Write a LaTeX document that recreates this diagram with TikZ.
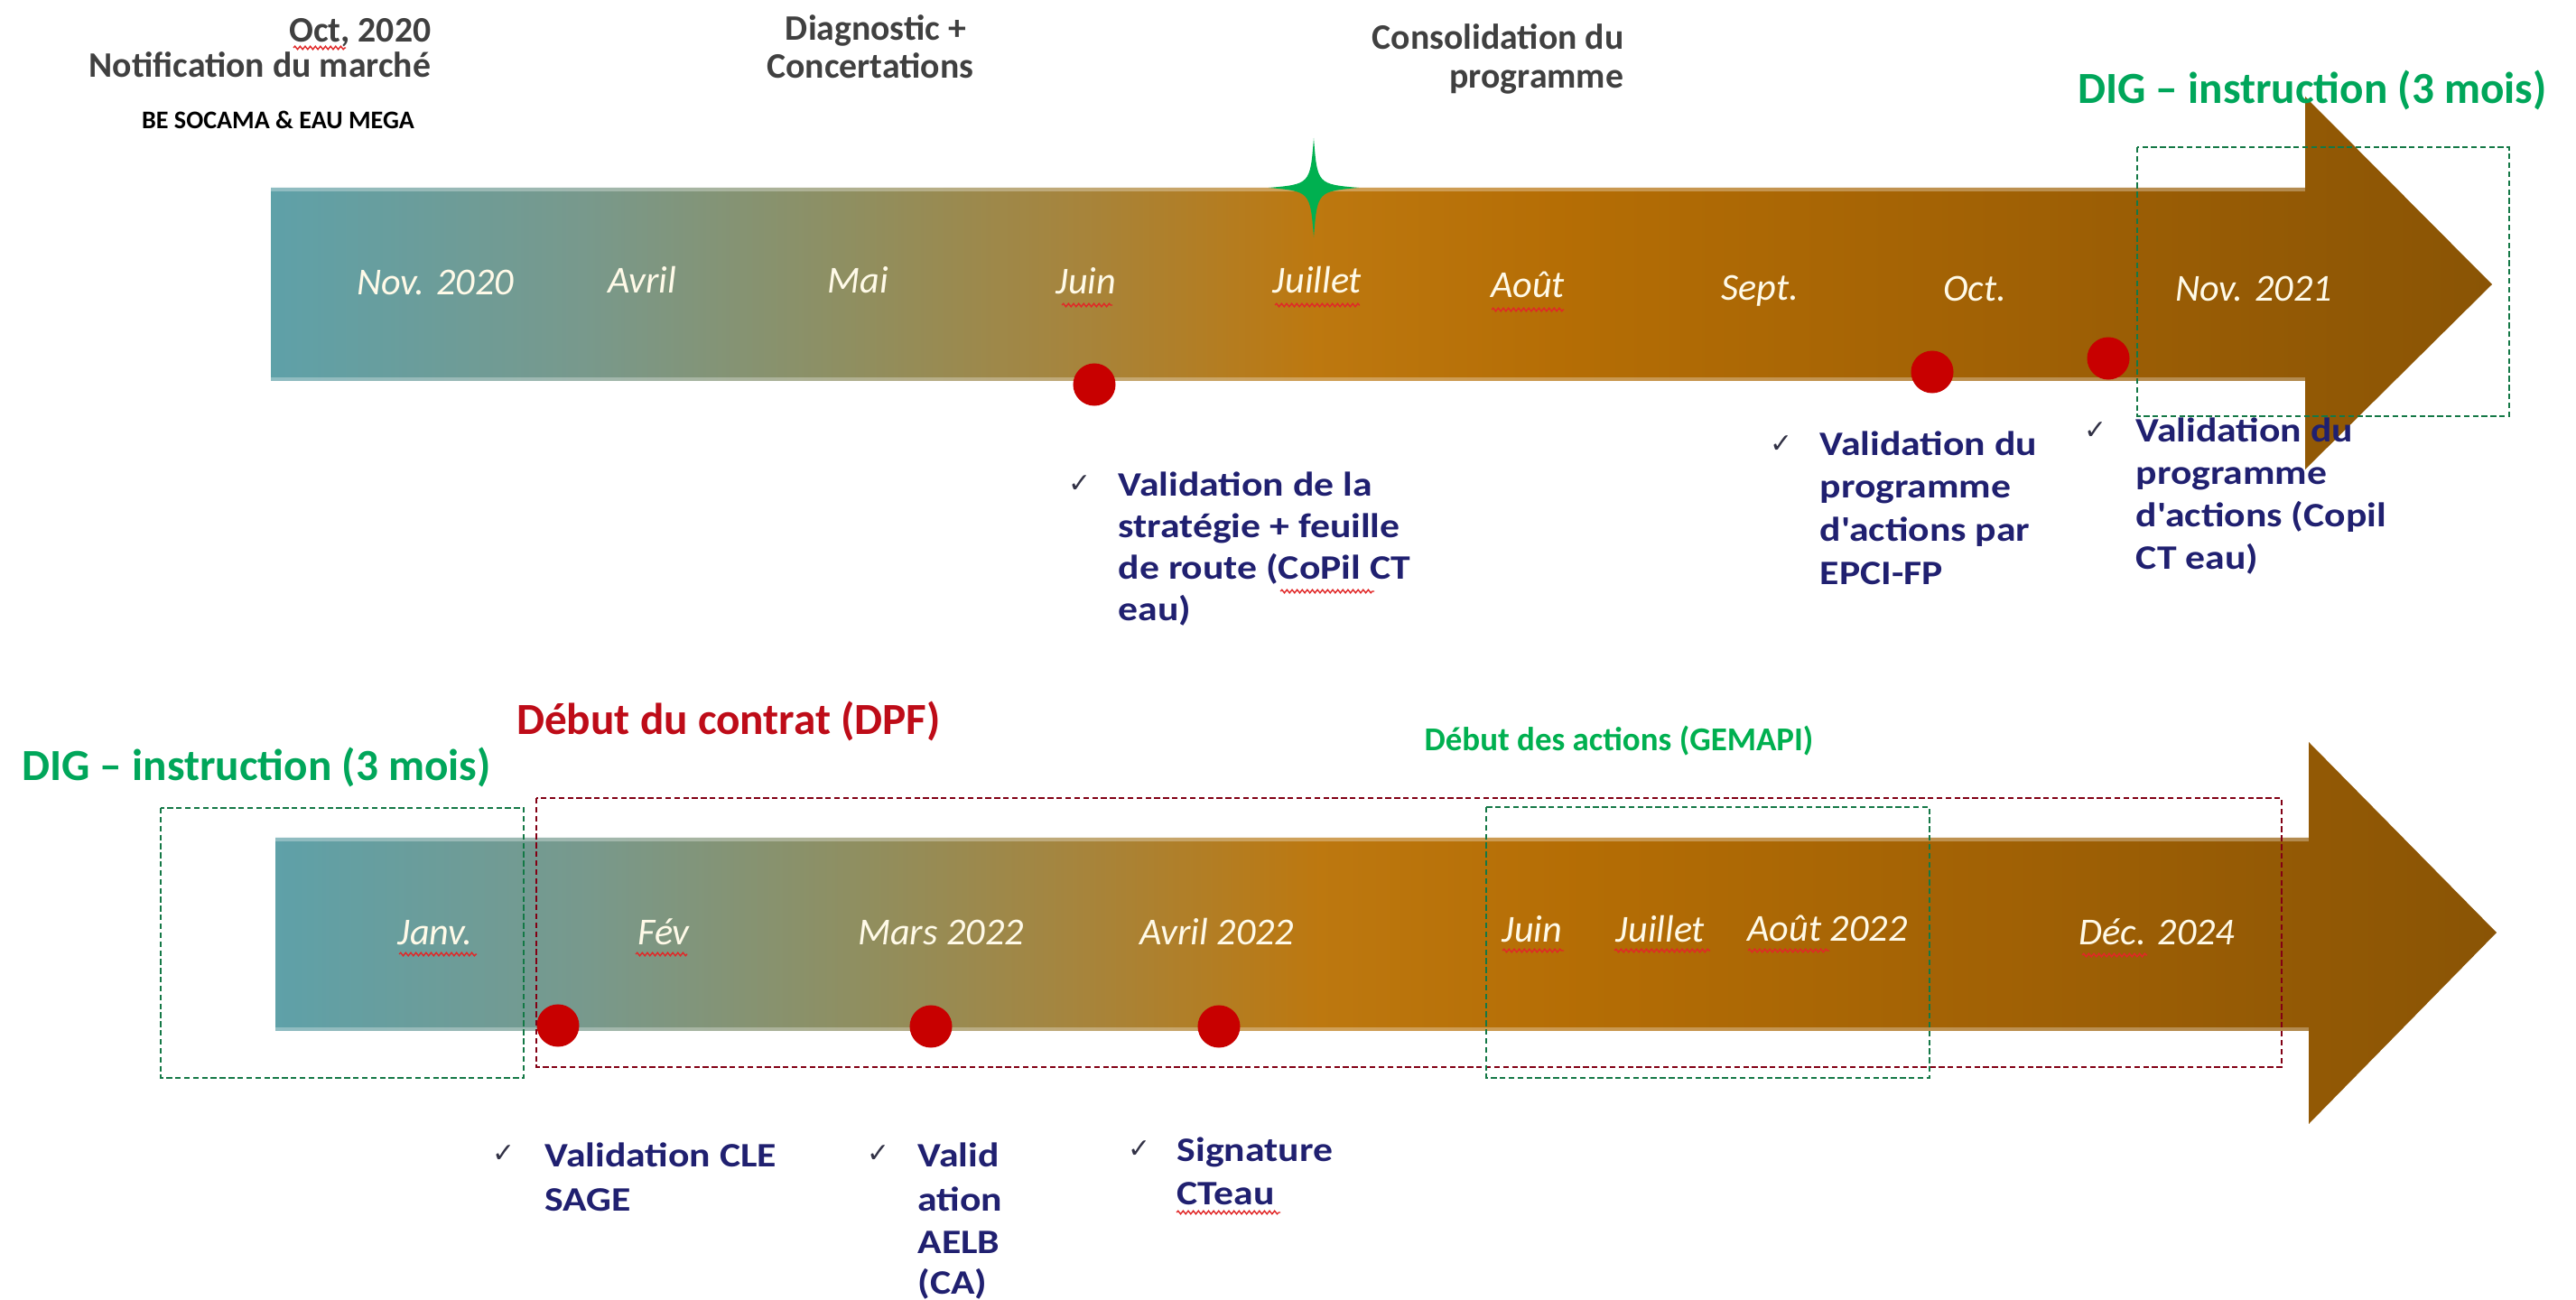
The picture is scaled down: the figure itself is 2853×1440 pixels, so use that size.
\documentclass[tikz,border=0pt]{standalone}
\usepackage{fontspec}
\setmainfont{Carlito}
\newfontfamily\widefont[FakeStretch=1.15]{Carlito}
\newfontfamily\symfont{DejaVu Sans}
\usetikzlibrary{decorations.pathmorphing}
\definecolor{navy}{RGB}{32,32,112}
\definecolor{hgray}{RGB}{64,64,64}
\definecolor{cream}{RGB}{255,250,232}
\definecolor{dotred}{RGB}{200,0,0}
\definecolor{digreen}{RGB}{0,166,90}
\definecolor{gemgreen}{RGB}{0,176,80}
\definecolor{titred}{RGB}{190,12,24}
\definecolor{boxgreen}{RGB}{20,120,70}
\definecolor{boxred}{RGB}{130,0,20}
\definecolor{tickc}{RGB}{50,50,70}
\definecolor{squigred}{RGB}{225,40,40}
\pgfdeclarehorizontalshading{arrowshade}{100bp}{%
 rgb(0bp)=(0.37,0.63,0.66);
 rgb(25bp)=(0.37,0.63,0.66);
 rgb(32bp)=(0.47,0.60,0.55);
 rgb(38bp)=(0.56,0.56,0.38);
 rgb(43bp)=(0.65,0.52,0.24);
 rgb(48.5bp)=(0.74,0.47,0.06);
 rgb(54bp)=(0.71,0.43,0.02);
 rgb(64bp)=(0.63,0.38,0.02);
 rgb(75bp)=(0.54,0.33,0.02);
 rgb(100bp)=(0.54,0.33,0.02)}
\begin{document}
\begin{tikzpicture}[x=0.01cm,y=-0.01cm,
  month/.style={font=\fontsize{12}{14}\selectfont\itshape, text=cream, inner sep=0, anchor=base},
  headtxt/.style={font=\fontsize{11.3}{14}\selectfont\bfseries, text=hgray, inner sep=0},
  chk/.style={font=\widefont\fontsize{10.8}{13}\selectfont\bfseries, text=navy, inner sep=0, anchor=base west},
  tick/.style={font=\symfont\fontsize{8.5}{10}\selectfont, text=tickc, inner sep=0},
  dot/.style={circle, fill=dotred, draw=none, inner sep=0, minimum size=0.47cm},
  squig/.style={draw=squigred, line width=0.4pt, decorate, decoration={snake, amplitude=0.5pt, segment length=1.6pt}},
  gbox/.style={draw=boxgreen, dash pattern=on 1.8pt off 1pt, line width=0.55pt},
  rbox/.style={draw=boxred, dash pattern=on 1.8pt off 1pt, line width=0.55pt},
  bevel/.style={draw=white, opacity=0.3, line width=1.4pt},
  bigtitle/.style={font=\fontsize{14}{16}\selectfont\bfseries, inner sep=0}
]
\useasboundingbox (0,0) rectangle (2853,1440);
\fill[white] (0,0) rectangle (2853,1440);

% ---------- top timeline ----------
\shade[shading=arrowshade] (300,208) -- (2553,208) -- (2553,107) -- (2760,315) -- (2553,520) -- (2553,422) -- (300,422) -- cycle;
\draw[bevel] (300,210) -- (2553,210);
\draw[bevel] (300,420) -- (2553,420);

% green star
\fill[gemgreen] (1455,153) .. controls (1459,204) .. (1505,208) .. controls (1459,212) .. (1455,263) .. controls (1451,212) .. (1405,208) .. controls (1451,204) .. cycle;

% headings
\node[headtxt, anchor=base east] (oct) at (478,47) {Oct, 2020};
\node[headtxt, anchor=base east] (notif) at (478,86) {Notification du marché};
\node[font=\fontsize{8}{9}\selectfont\bfseries, text=black, inner sep=0, anchor=base] (be) at (308,143) {BE SOCAMA \& EAU MEGA};
\node[headtxt, anchor=base] (diag) at (970,45) {Diagnostic +};
\node[headtxt, anchor=base] (conc) at (964,87) {Concertations};
\node[headtxt, anchor=base east] (cons) at (1799,55) {Consolidation du};
\node[headtxt, anchor=base east] (prog) at (1799,98) {programme};
\node[bigtitle, text=digreen] (dig1) at (2561,100) {DIG – instruction (3 mois)};

% months top
\node[month] (m1) at (482,327) {Nov. 2020};
\node[month] (m2) at (711,325) {Avril};
\node[month] (m3) at (950,325) {Mai};
\node[month] (m4) at (1203,326) {Juin};
\node[month] (m5) at (1459,325) {Juillet};
\node[month] (m6) at (1692,330) {Août};
\node[month] (m7) at (1949,333) {Sept.};
\node[month] (m8) at (2187,334) {Oct.};
\node[month] (m9) at (2496,334) {Nov. 2021};

% dots top
\node[dot] (d1) at (1212,426) {};
\node[dot] (d2) at (2140,412) {};
\node[dot] (d3) at (2335,397) {};

% green dashed box top
\draw[gbox] (2367,163) rectangle (2779,461);

% checklists top
\node[tick] (t1) at (1196,536) {✓};
\node[chk] (a1) at (1238,550) {Validation de la};
\node[chk] (a2) at (1238,596) {stratégie + feuille};
\node[chk] (a3) at (1238,642) {de route (CoPil CT};
\node[chk] (a4) at (1238,688) {eau)};

\node[tick] (t2) at (1973,492) {✓};
\node[chk] (b1) at (2015,505) {Validation du};
\node[chk] (b2) at (2015,552) {programme};
\node[chk] (b3) at (2015,600) {d'actions par};
\node[chk] (b4) at (2015,648) {EPCI-FP};

\node[tick] (t3) at (2321,477) {✓};
\node[chk] (c1) at (2365,490) {Validation du};
\node[chk] (c2) at (2365,537) {programme};
\node[chk] (c3) at (2365,584) {d'actions (Copil};
\node[chk] (c4) at (2365,631) {CT eau)};

% ---------- bottom timeline ----------
\shade[shading=arrowshade] (305,928) -- (2557,928) -- (2557,822) -- (2765,1033) -- (2557,1245) -- (2557,1142) -- (305,1142) -- cycle;
\draw[bevel] (305,930) -- (2557,930);
\draw[bevel] (305,1140) -- (2557,1140);

\node[bigtitle, text=digreen] (dig2) at (284,850) {DIG – instruction (3 mois)};
\node[bigtitle, text=titred] (contrat) at (807,799) {Début du contrat (DPF)};
\node[font=\fontsize{10.5}{12}\selectfont\bfseries, text=gemgreen, inner sep=0] (gemapi) at (1793,821) {Début des actions (GEMAPI)};

\node[month] (n1) at (482,1047) {Janv.};
\node[month] (n2) at (735,1047) {Fév};
\node[month] (n3) at (1042,1047) {Mars 2022};
\node[month] (n4) at (1348,1047) {Avril 2022};
\node[month] (n5) at (1697,1044) {Juin};
\node[month] (n6) at (1839,1044) {Juillet};
\node[month] (n7) at (2024,1043) {Août 2022};
\node[month] (n8) at (2389,1047) {Déc. 2024};

\node[dot] (e1) at (618,1136) {};
\node[dot] (e2) at (1031,1137) {};
\node[dot] (e3) at (1350,1137) {};

\draw[gbox] (178,895) rectangle (580,1194);
\draw[rbox] (594,884) rectangle (2527,1182);
\draw[gbox] (1646,894) rectangle (2137,1194);

\node[tick] (t4) at (558,1278) {✓};
\node[chk] (f1) at (603,1293) {Validation CLE};
\node[chk] (f2) at (603,1341) {SAGE};

\node[tick] (t5) at (973,1278) {✓};
\node[chk] (g1) at (1016,1293) {Valid};
\node[chk] (g2) at (1016,1341) {ation};
\node[chk] (g3) at (1016,1388) {AELB};
\node[chk] (g4) at (1016,1433) {(CA)};

\node[tick] (t6) at (1262,1273) {✓};
\node[chk] (h1) at (1303,1287) {Signature};
\node[chk] (h2) at (1303,1334) {CTeau};

% spell-check squiggles
\draw[squig] (325,53) -- (383,53);
\draw[squig] (1176,338) -- (1232,338);
\draw[squig] (1412,338) -- (1506,338);
\draw[squig] (1652,343) -- (1732,343);
\draw[squig] (1418,655) -- (1522,655);
\draw[squig] (442,1057) -- (528,1057);
\draw[squig] (704,1057) -- (761,1057);
\draw[squig] (1664,1053) -- (1732,1053);
\draw[squig] (1788,1053) -- (1894,1053);
\draw[squig] (1936,1053) -- (2026,1053);
\draw[squig] (2306,1058) -- (2378,1058);
\draw[squig] (1303,1343) -- (1418,1343);
\end{tikzpicture}
\end{document}
